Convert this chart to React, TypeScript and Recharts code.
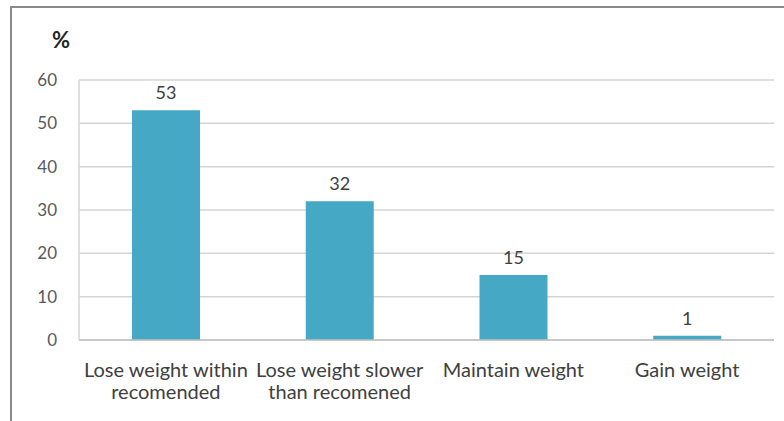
import React from 'react';
import { BarChart, Bar, XAxis, YAxis, CartesianGrid, LabelList } from 'recharts';

const categories = ['Lose weight within recomended', 'Lose weight slower than recomened', 'Maintain weight', 'Gain weight'];
const categoryLines = [
  ['Lose weight within', 'recomended'],
  ['Lose weight slower', 'than recomened'],
  ['Maintain weight', ''],
  ['Gain weight', ''],
];
const percentValues = [53, 32, 15, 1];
const yTicks = [0, 10, 20, 30, 40, 50, 60];

const data = categories.map((c, i) => ({ name: c, value: percentValues[i], idx: i }));

const FONT = 'Lato, "Open Sans", sans-serif';

const XTick = (props: any) => {
  const { x, y, payload } = props;
  const lines = categoryLines[payload.index] || [payload.value];
  return (
    <g>
      <text x={x} y={y} textAnchor="middle" fontFamily={FONT} fontSize={20} fill="#404040">
        <tspan x={x} dy={29}>{lines[0]}</tspan>
        {lines[1] ? <tspan x={x} dy={22}>{lines[1]}</tspan> : null}
      </text>
    </g>
  );
};

const YTick = (props: any) => {
  const { y, payload } = props;
  return (
    <text x={57} y={y} dy={6} textAnchor="end" fontFamily={FONT} fontSize={17} fill="#595959">
      {payload.value}
    </text>
  );
};

export default function App() {
  return (
    <div style={{ position: 'absolute', left: 0, top: 0, width: 784, height: 421, background: '#fff' }}>
      <div style={{ position: 'absolute', left: 10, top: 6, width: 774, height: 415, borderLeft: '2px solid #8a8a8a', borderTop: '2px solid #8a8a8a', boxSizing: 'border-box' }} />
      <div style={{ position: 'absolute', left: 52, top: 26, fontFamily: FONT, fontWeight: 700, fontSize: 22, color: '#262626' }}>%</div>
      <div style={{ position: 'absolute', left: 0, top: 0 }}>
        <BarChart width={784} height={421} data={data} margin={{ top: 80, right: 10, left: 19, bottom: 21 }} barCategoryGap="30.5%">
          <CartesianGrid vertical={false} stroke="#d4d4d4" strokeWidth={1.5} />
          <XAxis dataKey="name" interval={0} tick={<XTick />} tickLine={false} axisLine={{ stroke: '#bfbfbf', strokeWidth: 1.5 }} height={60} />
          <YAxis domain={[0, 60]} ticks={yTicks} width={60} axisLine={{ stroke: '#d4d4d4', strokeWidth: 1.5 }} tickLine={false} tick={<YTick />} interval={0} />
          <Bar dataKey="value" fill="#45a9c5" isAnimationActive={false}>
            <LabelList dataKey="value" position="top" offset={11} style={{ fontFamily: FONT, fontSize: 18, fill: '#404040' }} />
          </Bar>
        </BarChart>
      </div>
    </div>
  );
}
